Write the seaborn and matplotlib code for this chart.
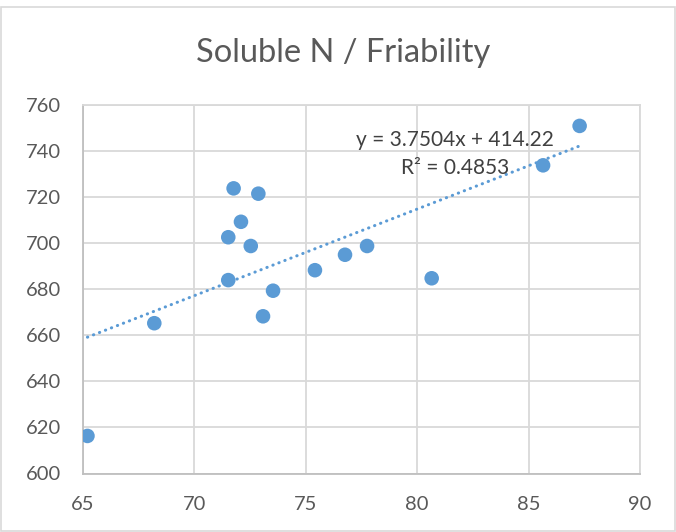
import numpy as np
import pandas as pd
import matplotlib
matplotlib.use("Agg")
import matplotlib.pyplot as plt
import seaborn as sns

# ── data ─────────────────────────────────────────────────────────────────────
friability = [65.2, 68.2, 71.76, 72.87, 72.09, 71.52, 72.53, 71.52, 73.53,
              73.08, 75.41, 76.76, 77.75, 80.65, 85.65, 87.29]
soluble_n  = [616.3, 665.2, 723.7, 721.4, 709.2, 702.5, 698.7, 683.9, 679.3,
              668.2, 688.2, 694.9, 698.7, 684.7, 733.7, 750.8]
x_ticks = [65, 70, 75, 80, 85, 90]
y_ticks = [600, 620, 640, 660, 680, 700, 720, 740, 760]
title = "Soluble N / Friability"
eq_text = "y = 3.7504x + 414.22"
r2_text = "R² = 0.4853"

df = pd.DataFrame({"x": friability, "y": soluble_n})

sns.set_theme(style="whitegrid")
plt.rcParams["font.family"] = ["Lato", "DejaVu Sans"]

blue = "#5B9BD5"
grid_c = "#D9D9D9"
text_c = "#595959"

fig = plt.figure(figsize=(6.76, 5.32), dpi=100)
ax = fig.add_axes([83 / 676, 1 - 473.5 / 532, (640 - 83) / 676, (473.5 - 104.7) / 532])

# trend line (dotted) under the points
sns.regplot(data=df, x="x", y="y", ax=ax, ci=None, scatter=False,
            line_kws=dict(color=blue, lw=2.2, linestyle=(0, (0.1, 2.0)),
                          dash_capstyle="round", zorder=2))
sns.scatterplot(data=df, x="x", y="y", ax=ax, color=blue, s=110,
                edgecolor="none", zorder=3)

ax.set_xlim(65, 90)
ax.set_ylim(600, 760)
ax.set_xticks(x_ticks)
ax.set_yticks(y_ticks)
ax.set_xlabel("")
ax.set_ylabel("")
ax.grid(True, color=grid_c, lw=1.3)
ax.tick_params(axis="both", colors=text_c, labelsize=14.5, length=0)
ax.tick_params(axis="x", pad=16)
ax.tick_params(axis="y", pad=16)
for side, sp in ax.spines.items():
    sp.set_visible(True)
    sp.set_color(grid_c)
    sp.set_linewidth(1.3)
ax.spines["left"].set_color("#BFBFBF")
ax.spines["bottom"].set_color("#BFBFBF")

ax.text(81.7, 744.7, eq_text, ha="center", va="center", fontsize=15, color="#404040")
ax.text(81.7, 732.5, r2_text, ha="center", va="center", fontsize=15, color="#404040")

fig.text(343 / 676, 1 - 62 / 532, title, ha="center", va="baseline",
         fontsize=23.5, color=text_c)

# chart area border
fig.patches.append(plt.Rectangle((0.002, 0.002), 0.996, 0.985, transform=fig.transFigure,
                                 fill=False, edgecolor="#D9D9D9", lw=1.2))

fig.savefig("out.png", dpi=100)
